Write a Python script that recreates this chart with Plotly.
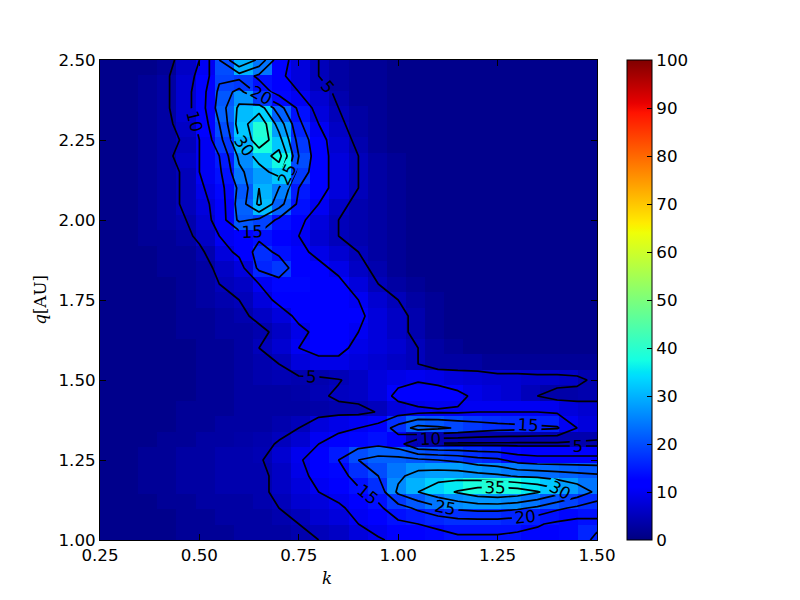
import numpy as np
import plotly.graph_objects as go

k_values = [round(0.25 + 0.05 * i, 2) for i in range(26)]
q_values = [round(1.00 + 0.05 * j, 2) for j in range(31)]
contour_levels = [5, 10, 15, 20, 25, 30, 35]
colorbar_ticks = list(range(0, 101, 10))

# rows listed from q = 2.50 (top) down to q = 1.00 (bottom); columns k = 0.25 ... 1.50
rows_top_down = [
    [1,1,1,2,6,10,20,30,24,12,8,5,3,2,2,1,1,1,1,1,1,1,1,1,1,1],   # 2.50
    [1,1,2,3,7,11,19,18,14,11,8,5,3,2,2,1,1,1,1,1,1,1,1,1,1,1],   # 2.45
    [1,1,2,3,7,12,21,27,18,13,10,7,4,2,2,1,1,1,1,1,1,1,1,1,1,1],  # 2.40
    [1,1,2,3,7,12,22,31,33,22,14,8,5,3,2,1,1,1,1,1,1,1,1,1,1,1],  # 2.35
    [1,1,2,3,6,11,20,32,39,28,16,10,6,3,2,1,1,1,1,1,1,1,1,1,1,1], # 2.30
    [1,1,2,3,5,10,18,30,38,32,18,12,7,4,2,1,1,1,1,1,1,1,1,1,1,1], # 2.25
    [1,1,2,3,6,10,15,26,32,37,20,12,8,5,3,2,1,1,1,1,1,1,1,1,1,1], # 2.20
    [1,1,2,3,5,10,14,24,28,32,18,12,8,5,3,2,1,1,1,1,1,1,1,1,1,1], # 2.15
    [1,1,2,3,5,9,13,21,30,25,15,12,8,5,3,2,1,1,1,1,1,1,1,1,1,1],  # 2.10
    [1,1,2,3,5,8,12,22,31,22,14,10,6,4,3,2,1,1,1,1,1,1,1,1,1,1],  # 2.05
    [1,1,2,3,4,7,12,21,19,14,11,8,5,4,3,2,1,1,1,1,1,1,1,1,1,1],   # 2.00
    [1,1,2,2,3,6,10,12,14,12,10,7,5,4,3,2,1,1,1,1,1,1,1,1,1,1],   # 1.95
    [1,1,1,2,2,4,8,11,17,14,11,9,7,5,3,2,1,1,1,1,1,1,1,1,1,1],    # 1.90
    [1,1,1,2,2,3,6,8,16,18,12,11,9,6,4,2,1,1,1,1,1,1,1,1,1,1],    # 1.85
    [1,1,1,1,2,3,5,6,10,13,13,12,11,8,5,3,2,1,1,1,1,1,1,1,1,1],   # 1.80
    [1,1,1,1,2,3,4,5,8,11,12,12,12,10,7,5,3,2,1,1,1,1,1,1,1,1],   # 1.75
    [1,1,1,1,2,2,3,4,6,8,11,12,12,11,8,6,4,2,1,1,1,1,1,1,1,1],    # 1.70
    [1,1,1,1,2,2,3,3,4,6,9,11,11,10,8,6,4,2,1,1,1,1,1,1,1,1],     # 1.65
    [1,1,1,1,1,2,2,3,5,7,10,11,11,9,8,7,5,3,2,1,1,1,1,1,1,1],     # 1.60
    [1,1,1,1,1,2,2,3,4,5,8,9,9,8,7,6,5,3,3,3,2,2,2,2,2,2],        # 1.55
    [1,1,1,1,1,2,2,3,4,4.5,4,4,4.8,6,8,9,9.7,9,8,7.5,7,7,6.5,6.5,6,4],      # 1.50
    [1,1,1,1,1,2,2,3,3,3,3.5,4.5,5.5,6,8,11,12,12,11,9,8,7,5,3.5,3.5,4],    # 1.45
    [1,1,1,1,2,2,2,3,3,3,3,3.5,4,4,5.2,8,9,9.5,9.5,10,10,10,10,9.5,8,7],    # 1.40
    [1,1,1,1,2,2,3,3,3,4,5,8,9,10,12,17,22,21,19.5,18,17,16.5,16,15.5,10,8], # 1.35
    [1,1,1,2,2,3,3,3.5,4,5.3,7,10,12,13,14,12,4.8,4,4,4,4,4,4,4,4,4],       # 1.30
    [1,1,2,2,3,3,4,4,4.5,7,9.5,12,15,20,22,22,21,20,19,17,16,13,12,12,12,12], # 1.25
    [1,1,2,2,3,3,4,4,4,6,9,11,13,17,20,24,27,28,28,27,26,24.5,24,23,22,21],  # 1.20
    [1,1,2,2,3,3,4,4,4,6,8,10,11,14,17,26,30,33,35.5,38,39,38,35.5,32,28,24], # 1.15
    [1,1,1,2,2,3,3,3,4,5,7,8,9.5,11,14,18,21,24,26,27,27,26,24,21,19,17],    # 1.10
    [1,1,1,1,2,2,3,3,3,4,5,7,8,10,12,14,15,16,17,17,17,16,15.5,14,13,14],    # 1.05
    [1,1,1,1,2,2,2,3,3,3,4,5,6,8,9.5,11,12,13,14,14,14,14,13,12,13,16],      # 1.00
]
z = np.array(rows_top_down[::-1], dtype=float)

# matplotlib "jet" colormap
def jet_scale():
    r = [(0, 0), (0.35, 0), (0.66, 1), (0.89, 1), (1, 0.5)]
    g = [(0, 0), (0.125, 0), (0.375, 1), (0.64, 1), (0.91, 0), (1, 0)]
    b = [(0, 0.5), (0.11, 1), (0.34, 1), (0.65, 0), (1, 0)]
    stops = sorted(set([p for p, _ in r + g + b]))
    def interp(tab, t):
        xs = [p for p, _ in tab]; ys = [v for _, v in tab]
        return float(np.interp(t, xs, ys))
    return [[t, "rgb(%d,%d,%d)" % (round(255 * interp(r, t)), round(255 * interp(g, t)), round(255 * interp(b, t)))] for t in stops]

kk = np.array(k_values)
qq = np.array(q_values)
nx, ny = len(kk), len(qq)
xc = kk[0] + (np.arange(nx) + 0.5) * (kk[-1] - kk[0]) / nx
yc = qq[0] + (np.arange(ny) + 0.5) * (qq[-1] - qq[0]) / ny

FS = 16.7
fig = go.Figure()
fig.add_trace(go.Heatmap(
    x=xc, y=yc, z=z, zmin=0, zmax=100, colorscale=jet_scale(), zsmooth=False,
    colorbar=dict(x=1.0604, xanchor="left", xpad=0, y=0.5, yanchor="middle", ypad=0,
                  len=1.0, lenmode="fraction",
                  thickness=25, thicknessmode="pixels", outlinecolor="black", outlinewidth=1,
                  tickvals=colorbar_ticks, ticks="inside", ticklen=5, tickcolor="black",
                  tickfont=dict(family="DejaVu Sans", size=FS, color="black")),
    hoverinfo="skip",
))
fig.add_trace(go.Contour(
    x=kk, y=qq, z=z,
    contours=dict(start=contour_levels[0], end=contour_levels[-1], size=contour_levels[1] - contour_levels[0],
                  coloring="none", showlabels=True,
                  labelfont=dict(family="DejaVu Sans", size=FS, color="black")),
    line=dict(color="black", width=1.7, smoothing=0),
    showscale=False, hoverinfo="skip",
))

axis_common = dict(showgrid=False, zeroline=False, ticks="inside", ticklen=6, tickcolor="black",
                   showline=True, linecolor="black", linewidth=1, mirror="ticks",
                   tickfont=dict(family="DejaVu Sans", size=FS, color="black"))
fig.update_xaxes(range=[0.25, 1.5], tickvals=[0.25, 0.5, 0.75, 1.0, 1.25, 1.5], tickformat=".2f",
                 **axis_common)
fig.update_yaxes(range=[1.0, 2.5], tickvals=[1.0, 1.25, 1.5, 1.75, 2.0, 2.25, 2.5], tickformat=".2f",
                 **axis_common)
fig.add_annotation(text="<i>k</i>", xref="paper", yref="paper", x=0.457, y=-0.08,
                   xanchor="center", yanchor="middle", showarrow=False,
                   font=dict(family="DejaVu Serif", size=FS, color="black"))
fig.add_annotation(text="<i>q</i>[AU]", xref="paper", yref="paper", x=-0.121, y=0.5,
                   xanchor="center", yanchor="middle", showarrow=False, textangle=-90,
                   font=dict(family="DejaVu Serif", size=FS, color="black"))
fig.update_layout(width=792, height=592, margin=dict(l=92, r=203, t=52, b=60),
                  paper_bgcolor="white", plot_bgcolor="white", showlegend=False)
fig.write_html("out.html")
